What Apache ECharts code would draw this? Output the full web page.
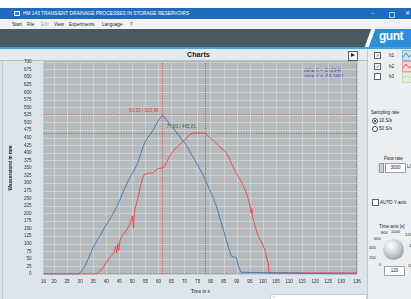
<!doctype html>
<html>
<head>
<meta charset="utf-8">
<script src="https://cdn.jsdelivr.net/npm/echarts@6/dist/echarts.min.js"></script>
<style>
    body {margin: 0; width: 411px; height: 299px; overflow: hidden; background: #fff;
        font-family: "Liberation Sans", Arial, sans-serif; position: relative;}
    .abs {position: absolute;}
    .t {position: absolute; white-space: nowrap; font-size: 4.6px; color: #222; line-height: 6px;}
    .cb {position: absolute; width: 5px; height: 5px; border: 1px solid #5d6266; background: #fff;
        font-size: 5px; line-height: 5px; text-align: center; color: #333;}
    .box {position: absolute; background: #fff; border: 1px solid #9aa3aa; font-size: 4.6px;
        line-height: 8px; text-align: center; color: #222;}
</style>
</head>
<body>

<!-- window title -->
<div class="abs" style="left:0;top:8px;width:411px;height:11px;background:#1f6cbf;"></div>
<div class="abs" style="left:14px;top:11px;width:6px;height:5px;background:#fff;"></div>
<div class="abs" style="left:15px;top:12px;width:4px;height:3px;background:#2a7fd0;"></div>
<div class="t" style="left:23px;top:11px;color:#fff;font-size:4.8px;">HM 143 TRANSIENT DRAINAGE PROCESSES IN STORAGE RESERVOIRS</div>
<div class="t" style="left:371px;top:10px;color:#cfe0f3;font-size:6px;">&#8211;</div>
<div class="abs" style="left:389px;top:12px;width:4px;height:4px;border:1px solid #a9c6e6;"></div>
<div class="t" style="left:405px;top:10px;color:#fff;font-size:6px;">&#10005;</div>

<!-- menu -->
<div class="abs" style="left:0;top:19px;width:411px;height:10px;background:#f2f2f2;"></div>
<div class="t" style="left:12px;top:22px;">Start</div>
<div class="t" style="left:27px;top:22px;">File</div>
<div class="t" style="left:41px;top:22px;color:#a8a8a8;">Edit</div>
<div class="t" style="left:54px;top:22px;">View</div>
<div class="t" style="left:69px;top:22px;">Experiments</div>
<div class="t" style="left:102px;top:22px;">Language</div>
<div class="t" style="left:130px;top:22px;">?</div>

<!-- banner -->
<div class="abs" style="left:0;top:29px;width:411px;height:18px;background:#4a5960;"></div>
<div class="abs" style="left:368px;top:29px;width:60px;height:18px;background:#fff;transform:skewX(-20deg);"></div>
<div class="abs" style="left:372px;top:29px;width:60px;height:18px;background:#2e8fd6;transform:skewX(-20deg);"></div>
<div class="t" style="left:379px;top:30px;color:#fff;font-size:12px;line-height:13px;font-weight:bold;letter-spacing:-0.5px;">gunt</div>
<div class="abs" style="left:0;top:47px;width:411px;height:2px;background:#45a2dd;"></div>

<!-- charts header + panel -->
<div class="abs" style="left:0;top:49px;width:367px;height:11px;background:#e7ebee;border-bottom:1px solid #b8c1c8;"></div>
<div class="t" style="left:187px;top:51px;font-size:7.2px;line-height:8px;font-weight:bold;color:#222;">Charts</div>
<div class="abs" style="left:348px;top:51px;width:8px;height:8px;border:1px solid #5a5f63;background:#f4f5f6;"></div>
<div class="abs" style="left:351px;top:53px;width:0;height:0;border-left:4px solid #222;border-top:2.5px solid transparent;border-bottom:2.5px solid transparent;"></div>
<div class="abs" style="left:0;top:61px;width:367px;height:238px;background:#dde4ea;"></div>
<div class="abs" style="left:2px;top:61px;width:1px;height:238px;background:#c3ccd3;"></div>
<div class="abs" style="left:270px;top:294px;width:95px;height:6px;background:#fff;border:1px solid #c6cdd3;"></div>
<div class="t" style="left:273px;top:294px;color:#888;font-size:4px;">&lt;</div>

<!-- sidebar -->
<div class="abs" style="left:367px;top:49px;width:44px;height:250px;background:#eceff2;border-left:1px solid #c2cbd2;"></div>
<div class="cb" style="left:374px;top:52px;">&#10003;</div>
<div class="t" style="left:389px;top:53px;">h1</div>
<div class="abs" style="left:402px;top:50px;width:11px;height:9px;background:#cddfee;border:1px solid #90b3d2;"></div>
<div class="cb" style="left:374px;top:63px;">&#10003;</div>
<div class="t" style="left:389px;top:64px;">h2</div>
<div class="abs" style="left:402px;top:61px;width:11px;height:9px;background:#f3d6d6;border:1px solid #d9a0a0;"></div>
<div class="cb" style="left:374px;top:73px;"></div>
<div class="t" style="left:389px;top:74px;">h3</div>
<div class="abs" style="left:402px;top:72px;width:11px;height:9px;background:#e3efdc;border:1px solid #c5dbb8;"></div>
<svg class="abs" style="left:403px;top:51px;" width="9" height="30">
    <polyline points="0,6 3,2 6,6 9,3" fill="none" stroke="#3d7ab8" stroke-width="0.9"/>
    <polyline points="0,17 3,13 6,17 9,14" fill="none" stroke="#e24848" stroke-width="0.9"/>
    <polyline points="0,27 3,24 6,27 9,25" fill="none" stroke="#b9d4a8" stroke-width="0.9"/>
</svg>

<div class="t" style="left:371px;top:110px;">Sampling rate</div>
<div class="abs" style="left:372px;top:118px;width:4px;height:4px;border:1px solid #444;border-radius:50%;background:#fff;"></div>
<div class="abs" style="left:373.5px;top:119.5px;width:2px;height:2px;border-radius:50%;background:#222;"></div>
<div class="t" style="left:379px;top:117.5px;">10 S/s</div>
<div class="abs" style="left:372px;top:126px;width:4px;height:4px;border:1px solid #444;border-radius:50%;background:#fff;"></div>
<div class="t" style="left:379px;top:125.5px;">50 S/s</div>

<div class="t" style="left:384px;top:156px;">Flow rate</div>
<div class="abs" style="left:379px;top:163px;width:3px;height:8px;background:#c9ced2;border:1px solid #8d959b;"></div>
<div class="box" style="left:385px;top:163px;width:19px;height:8px;">3000</div>
<div class="t" style="left:407px;top:164px;">L/h</div>

<div class="cb" style="left:372px;top:199px;"></div>
<div class="t" style="left:380px;top:200px;">AUTO Y-axis</div>

<div class="t" style="left:379px;top:224px;">Time axis [s]</div>
<div class="t" style="left:381px;top:230px;font-size:4px;">800</div>
<div class="t" style="left:391px;top:229px;font-size:4px;">1000</div>
<div class="t" style="left:405px;top:232px;font-size:4px;">1200</div>
<div class="t" style="left:374px;top:236px;font-size:4px;">600</div>
<div class="t" style="left:369px;top:245px;font-size:4px;">400</div>
<div class="t" style="left:369px;top:255px;font-size:4px;">200</div>
<div class="t" style="left:379px;top:262px;font-size:4px;">0</div>
<div class="t" style="left:409px;top:243px;font-size:4px;">1400</div>
<div class="t" style="left:408px;top:263px;font-size:4px;">1800</div>
<div class="abs" style="left:383px;top:239px;width:21px;height:21px;border-radius:50%;
     background:radial-gradient(circle at 38% 32%, #ffffff 0%, #d8dbdd 35%, #9a9ea2 80%, #73787c 100%);"></div>
<div class="box" style="left:384px;top:266px;width:19px;height:8px;">120</div>

<div id="chart" class="abs" style="left:0;top:0;width:411px;height:299px;"></div>

<script>
    // x axis labels (time in s)
    var xTicks = [16, 20, 25, 30, 35, 40, 45, 50, 55, 60, 65, 70, 75, 80, 85, 90, 95, 100,
        105, 110, 115, 120, 125, 130, 136];

    // h1 - blue [time s, level mm]
    var h1 = [[16, 0], [29.5, 0], [30, 3], [31, 15], [32, 30], [33, 48], [34, 68], [35, 88], [36, 104],
        [37, 118], [38, 132], [39, 148], [40, 162], [41, 176], [42, 190], [43, 206], [44, 222], [45, 240],
        [46, 262], [47, 282], [48, 300], [49, 318], [50, 332], [51, 348], [52, 366], [53, 392], [54, 418],
        [55, 438], [56, 452], [57, 462], [58, 476], [59, 492], [60, 508], [61, 520], [61.5, 526], [62, 522],
        [63, 510], [64, 498], [65, 488], [66, 478], [67, 466], [68, 456], [69, 444], [70, 434], [71, 420],
        [72, 404], [73, 390], [74, 374], [75, 360], [76, 344], [77, 328], [78, 310], [79, 290], [80, 270],
        [81, 250], [82, 228], [83, 200], [84, 170], [85, 142], [86, 112], [87, 82], [88, 58], [89, 56],
        [89.8, 55], [90.5, 30], [91.5, 6], [92, 0], [136, 0]];

    // h2 - red
    var h2 = [[16, 0], [36.3, 0], [37, 6], [38, 14], [39, 24], [40, 38], [41, 52], [42, 60], [43, 72],
        [43.6, 92], [44, 70], [44.4, 100], [44.8, 78], [45.3, 112], [46, 126], [47, 136], [48, 148],
        [49, 164], [49.7, 182], [50, 192], [50.4, 152], [50.8, 200], [51, 214], [52, 246], [53, 286],
        [54, 318], [54.6, 330], [55, 332], [56, 332], [57, 333], [58, 334], [59, 344], [60, 348], [61, 350],
        [62, 352], [63, 368], [64, 384], [65, 398], [66, 410], [67, 418], [68, 426], [69, 434], [70, 442],
        [71, 452], [72, 460], [73, 464], [74, 466], [75, 466], [76, 466], [77, 466], [78, 464], [79, 456],
        [80, 448], [81, 440], [82, 432], [83, 424], [84, 416], [85, 408], [86, 400], [87, 384], [88, 364],
        [89, 346], [90, 330], [91, 316], [92, 300], [92.5, 290], [92.8, 296], [93, 282], [94, 258],
        [95, 228], [95.5, 200], [95.8, 216], [96, 190], [97, 158], [98, 130], [99, 112], [100, 96],
        [101, 72], [101.5, 50], [102, 38], [102.3, 4], [136, 4]];

    // cursors
    var cursorRed = [61.53, 525.96];
    var cursorGreen = [77.83, 465.81];
    var deltaText = ['delta X = 16,2944', 'delta Y = -60,1483'];

    var myChart = echarts.init(document.getElementById('chart'));

    var lbl = {fontFamily: 'Liberation Sans', fontSize: 4.6, color: '#333'};

    option = {
        animation: false,
        grid: {
            left: 35, top: 62, width: 322, height: 224,
            show: true, backgroundColor: '#b6babd', borderColor: '#7e8488', borderWidth: 1
        },
        xAxis: {
            type: 'value', min: 16, max: 136,
            name: 'Time in s', nameLocation: 'middle', nameGap: 10,
            nameTextStyle: {fontFamily: 'Liberation Sans', fontSize: 4.8, color: '#222'},
            axisLine: {show: false},
            axisTick: {show: false, customValues: xTicks},
            axisLabel: Object.assign({customValues: xTicks, margin: 5}, lbl),
            splitLine: {lineStyle: {color: '#d2d5d8', width: 0.8}}
        },
        yAxis: {
            type: 'value', min: 0, max: 700, interval: 25,
            name: 'Wasserstand in mm', nameLocation: 'middle', nameGap: 28,
            nameTextStyle: {fontFamily: 'Liberation Sans', fontSize: 4.8, fontWeight: 'bold', color: '#222'},
            axisLine: {show: false},
            axisTick: {show: false},
            axisLabel: Object.assign({margin: 12}, lbl),
            splitLine: {lineStyle: {color: '#d2d5d8', width: 0.8}}
        },
        graphic: [{
            type: 'text', left: 304, top: 68,
            style: {text: deltaText.join('\n'), fill: '#5a3ecf', font: '4.8px Liberation Sans', lineHeight: 6}
        }],
        series: [
            {
                name: 'h2', type: 'line', data: h2, showSymbol: false,
                lineStyle: {color: '#e84545', width: 0.9},
                markLine: {
                    silent: true, symbol: 'none', label: {show: false},
                    data: [
                        {xAxis: cursorRed[0], lineStyle: {color: '#e03a3a', type: [1, 1.5], width: 0.8}},
                        {yAxis: cursorRed[1], lineStyle: {color: '#e03a3a', type: [1, 1.5], width: 0.8}},
                        {xAxis: cursorGreen[0], lineStyle: {color: '#3f6e2e', type: [1, 1.5], width: 0.8}},
                        {yAxis: cursorGreen[1], lineStyle: {color: '#3f6e2e', type: [1, 1.5], width: 0.8}}
                    ]
                },
                markPoint: {
                    symbolSize: 0,
                    data: [
                        {
                            coord: cursorRed, value: '61,53 / 525,96',
                            label: {show: true, position: 'left', distance: 4, offset: [0, -4],
                                color: '#e03a3a', fontFamily: 'Liberation Sans', fontSize: 4.6,
                                formatter: '{c}'}
                        },
                        {
                            coord: cursorGreen, value: '77,83 / 465,81',
                            label: {show: true, position: 'left', distance: 9, offset: [0, -6],
                                color: '#3f6e2e', fontFamily: 'Liberation Sans', fontSize: 4.6,
                                formatter: '{c}'}
                        }
                    ]
                }
            },
            {
                name: 'h1', type: 'line', data: h1, showSymbol: false,
                lineStyle: {color: '#3b78b6', width: 0.9}
            }
        ]
    };

    myChart.setOption(option);
</script>
</body>
</html>
